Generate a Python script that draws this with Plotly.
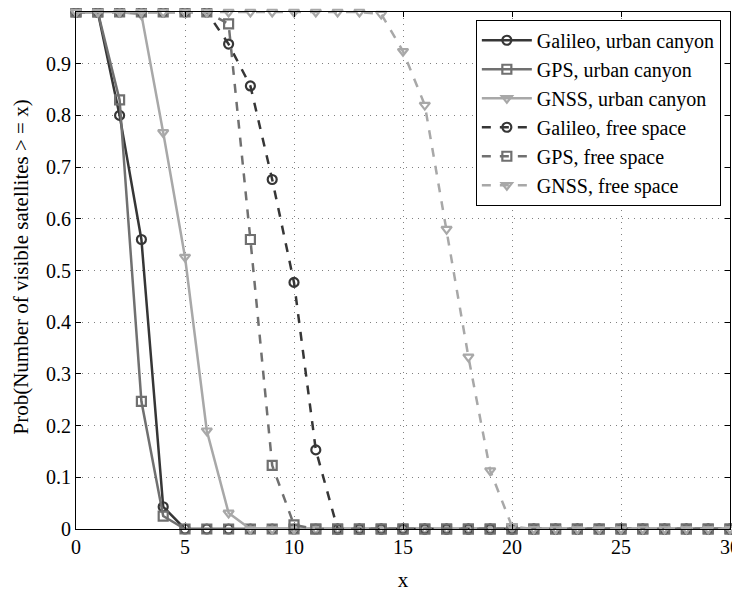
import plotly.graph_objects as go

x = list(range(0, 31))
zeros = lambda n: [0.0] * n

galileo_urban = [1, 1, 0.80, 0.56, 0.043] + zeros(26)
gps_urban = [1, 1, 0.83, 0.247, 0.025] + zeros(26)
gnss_urban = [1, 1, 1, 0.995, 0.767, 0.526, 0.19, 0.031] + zeros(23)
galileo_free = [1, 1, 1, 1, 1, 1, 1, 0.938, 0.857, 0.676, 0.477, 0.153] + zeros(19)
gps_free = [1, 1, 1, 1, 1, 1, 1, 0.977, 0.56, 0.123, 0.008] + zeros(20)
gnss_free = [1] * 14 + [0.996, 0.924, 0.82, 0.58, 0.333, 0.113, 0.005] + zeros(10)

names = ["Galileo, urban canyon", "GPS, urban canyon", "GNSS, urban canyon",
         "Galileo, free space", "GPS, free space", "GNSS, free space"]
series = [galileo_urban, gps_urban, gnss_urban, galileo_free, gps_free, gnss_free]
colors = ["#363636", "#707070", "#a8a8a8", "#363636", "#707070", "#a8a8a8"]
symbols = ["circle-open", "square-open", "triangle-down-open"] * 2
dashes = ["solid"] * 3 + ["dash"] * 3
y_title = "Prob(Number of visible satellites > = x)"

fig = go.Figure()
for n, s, c, m, d in zip(names, series, colors, symbols, dashes):
    fig.add_trace(go.Scatter(
        x=x, y=s, name=n, mode="lines+markers",
        line=dict(color=c, width=2.5, dash=d),
        marker=dict(symbol=m, size=9, color=c, line=dict(width=2.2, color=c)),
        cliponaxis=False,
    ))

font = "Liberation Serif"
fig.update_layout(
    width=732, height=585,
    margin=dict(l=68, r=10, t=4, b=64, autoexpand=False),
    paper_bgcolor="white", plot_bgcolor="white",
    font=dict(family=font, size=20, color="black"),
    legend=dict(x=0.986, y=0.985, xanchor="right", yanchor="top",
                bgcolor="white", bordercolor="black", borderwidth=1,
                font=dict(size=20, family=font), tracegroupgap=0,
                itemwidth=50),
    showlegend=True,
)
fig.add_annotation(
    text=y_title, xref="paper", yref="paper", x=-0.084, y=0.506,
    xanchor="center", yanchor="middle", textangle=-90, showarrow=False,
    font=dict(size=21, family=font, color="black"),
)
grid = dict(showgrid=True, gridcolor="#808080", griddash="1px,5px", gridwidth=1,
            zeroline=False, showline=True, linecolor="black", linewidth=1, mirror="ticks",
            ticks="inside", ticklen=5, tickcolor="black", automargin=False,
            tickfont=dict(family=font, size=20))
fig.update_xaxes(
    range=[0, 30], tickvals=[0, 5, 10, 15, 20, 25, 30],
    title=dict(text="x", font=dict(size=21, family=font), standoff=15),
    **grid,
)
fig.update_yaxes(
    range=[0, 1], tickvals=[0, 0.1, 0.2, 0.3, 0.4, 0.5, 0.6, 0.7, 0.8, 0.9],
    ticktext=["0", "0.1", "0.2", "0.3", "0.4", "0.5", "0.6", "0.7", "0.8", "0.9"],
    **grid,
)

fig.write_html("out.html")
